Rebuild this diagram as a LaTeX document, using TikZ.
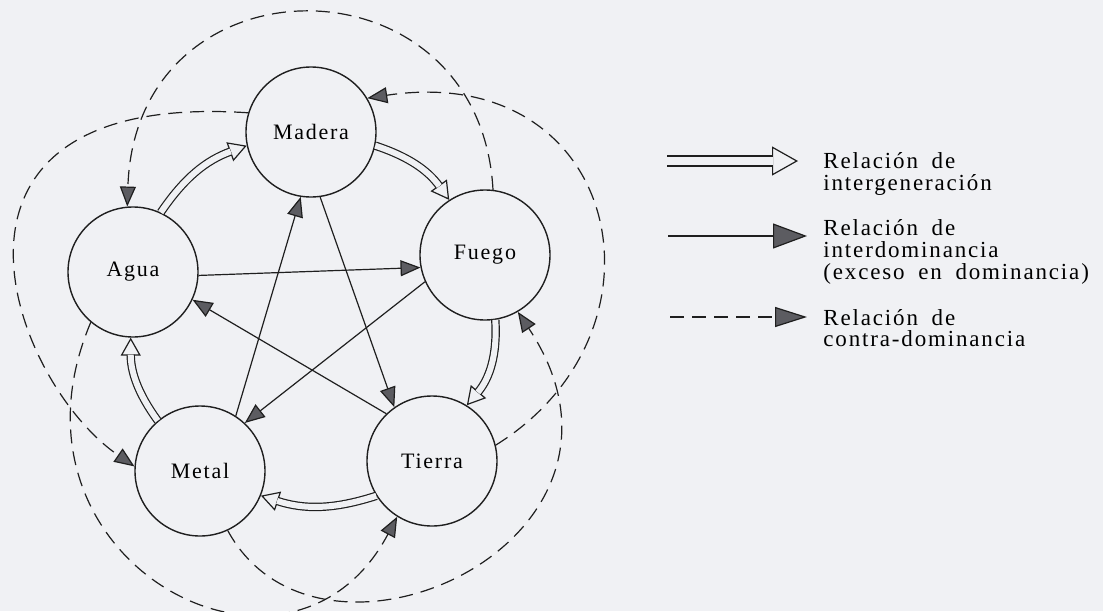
\documentclass[tikz,border=0pt]{standalone}
\usepackage{fontspec}
\setmainfont{Liberation Serif}
\newfontfamily\labelfont{Liberation Serif}[LetterSpace=8]
\newfontfamily\legendfont{Liberation Serif}[LetterSpace=8, WordSpace=1.8]
\usetikzlibrary{arrows.meta}

\newlength{\du}
\setlength{\du}{0.5pt}

\definecolor{paper}{rgb}{0.940,0.947,0.958}
\definecolor{ink}{rgb}{0.12,0.12,0.12}
\definecolor{tipgray}{rgb}{0.36,0.36,0.38}

\tikzset{
  element/.style={circle, draw=ink, line width=0.7pt, minimum size=130\du, inner sep=0pt,
    font=\labelfont\fontsize{11}{13}\selectfont},
  legendtext/.style={anchor=west, align=left, inner sep=0pt,
    font=\legendfont\fontsize{11.5}{10.8}\selectfont},
  domline/.style={draw=ink, line width=0.6pt, -{Triangle[length=10pt, width=8pt, fill=tipgray]}},
  contraline/.style={domline, dash pattern=on 7pt off 4pt},
  genhead/.style={draw=ink, line width=0.6pt, -{Triangle[length=9pt, width=10pt, fill=paper]}},
  genshaft/.style={draw=ink, line width=0.6pt, double=paper, double distance=3pt, shorten >=8.5pt},
}

\begin{document}
\begin{tikzpicture}[x=\du, y=-\du]
% paper
\fill[paper] (0,0) rectangle (1103,611);
\useasboundingbox (0,0) rectangle (1103,611);

% the five elements
\node[element] (madera) at (311,132) {Madera};
\node[element] (fuego) at (485,255) {Fuego};
\node[element] (tierra) at (432,461) {Tierra};
\node[element] (metal) at (200,471) {Metal};
\node[element] (agua) at (133,272) {Agua};

% intergeneracion (head first, shaft over it)
\draw[genhead] (agua.65) to[bend left=18] (madera.192);
\draw[genshaft] (agua.65) to[bend left=18] (madera.192);
\draw[genhead] (madera.-12) to[bend left=18] (fuego.123);
\draw[genshaft] (madera.-12) to[bend left=18] (fuego.123);
\draw[genhead] (fuego.-81) to[bend left=22] (tierra.58);
\draw[genshaft] (fuego.-81) to[bend left=22] (tierra.58);
\draw[genhead] (tierra.212) to[bend left=18] (metal.-22);
\draw[genshaft] (tierra.212) to[bend left=18] (metal.-22);
\draw[genhead] (metal.130) to[bend left=18] (agua.-92);
\draw[genshaft] (metal.130) to[bend left=18] (agua.-92);

% interdominancia
\draw[domline] (madera.-82) -- (tierra.125);
\draw[domline] (tierra.134) -- (agua.-25);
\draw[domline] (agua.-3) -- (fuego.191);
\draw[domline] (fuego.204) -- (metal.47);
\draw[domline] (metal.57) -- (madera.261);

% contra-dominancia
\draw[contraline] (fuego.83) .. controls +(-13,-238) and +(8,-255) .. (agua.95);
\draw[contraline] (madera.163) .. controls +(-344,-23) and +(-125,-86) .. (metal.176);
\draw[contraline] (agua.230) .. controls +(-101,238) and +(-108,204) .. (tierra.238);
\draw[contraline] (metal.-65) .. controls +(92,170) and +(152,229) .. (fuego.-60);
\draw[contraline] (tierra.14) .. controls +(185,-115) and +(253,-38) .. (madera.31);

% legend
\coordinate (gena) at (667,161);
\coordinate (genb) at (798,161);
\coordinate (doma) at (668,236);
\coordinate (domb) at (807,236);
\coordinate (cona) at (670,317);
\coordinate (conb) at (807,317);
\draw[genhead, -{Triangle[length=13pt, width=14.5pt, fill=paper]}] (gena) -- (genb);
\draw[genshaft, double distance=4.4pt, shorten >=12.5pt] (gena) -- (genb);
\draw[domline, -{Triangle[length=17pt, width=12.5pt, fill=tipgray]}] (doma) -- (domb);
\draw[contraline, -{Triangle[length=16pt, width=10pt, fill=tipgray]}] (cona) -- (conb);
\node[legendtext] (leggen) at (823,174) {Relación de\\intergeneración};
\node[legendtext] (legdom) at (823,252) {Relación de\\interdominancia\\(exceso en dominancia)};
\node[legendtext] (legcon) at (823,328) {Relación de\\contra-dominancia};
\end{tikzpicture}
\end{document}
